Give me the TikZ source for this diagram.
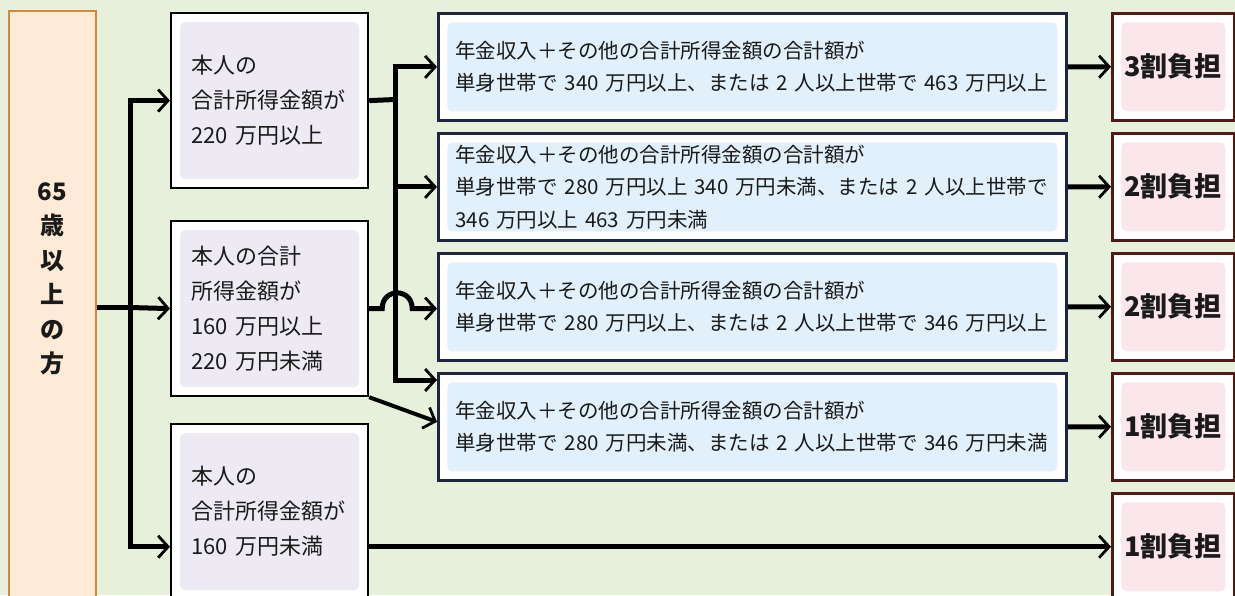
\documentclass[tikz,border=0pt]{standalone}
\usepackage{fontspec}
\setmainfont{Noto Sans CJK JP}
\usepackage{tikz}
\usetikzlibrary{
    arrows.meta,
    calc,
    positioning
}
\definecolor{bggreen}{RGB}{231,240,218}
\definecolor{agefill}{RGB}{253,235,215}
\definecolor{agedraw}{RGB}{212,134,58}
\definecolor{lavfill}{RGB}{238,234,243}
\definecolor{bluefill}{RGB}{225,240,250}
\definecolor{bluedraw}{RGB}{28,38,66}
\definecolor{pinkfill}{RGB}{251,230,236}
\definecolor{pinkdraw}{RGB}{78,26,26}
\definecolor{ink}{RGB}{26,26,26}
\tikzset{inset/.style={path picture={\fill[#1, rounded corners=5pt] ($(path picture bounding box.north west)+(9pt,-9pt)$) rectangle ($(path picture bounding box.south east)+(-9pt,9pt)$);}}}
\tikzset{ageb/.style={draw=agedraw, line width=2pt, fill=agefill, minimum width=87pt, minimum height=600pt, inner sep=0pt}}
\tikzset{incb/.style={draw=black, line width=2.2pt, fill=white, inset=lavfill, minimum width=197pt, minimum height=175pt, text width=157pt, inner xsep=20pt, align=left, text=ink, font=\fontsize{22}{35}\selectfont}}
\tikzset{condb/.style={draw=bluedraw, line width=2.8pt, fill=white, inset=bluefill, minimum width=628pt, minimum height=107pt, text width=594pt, inner xsep=17pt, align=left, text=ink, font=\fontsize{20.5}{32.5}\selectfont}}
\tikzset{payb/.style={draw=pinkdraw, line width=2.5pt, fill=white, inset=pinkfill, minimum width=122pt, minimum height=107pt, inner sep=0pt, text=ink, font=\fontsize{27}{32}\selectfont\bfseries}}
\tikzset{conn/.style={line width=5pt, draw=black, >={Straight Barb[length=10pt, width=22pt, line width=2.8pt]}}}

\begin{document}
\begin{tikzpicture}[x=1pt, y=-1pt]
    \useasboundingbox (0, 0) rectangle (1235, 595);
    \clip (0, 0) rectangle (1235, 595);
    \fill[bggreen] (0, 0) rectangle (1235, 595);

    \node[ageb, anchor=north west] (senior) at (8, 10) {};
    \node[align=center, text=ink, font=\fontsize{24}{34.5}\selectfont\bfseries] (seniortext) at (52, 279) {65\\歳\\以\\上\\の\\方};

    \node[incb, anchor=north west] (inc1) at (170, 12) {本人の\\合計所得金額が\\220 万円以上};
    \node[incb, anchor=north west] (inc2) at (170, 220) {本人の合計\\所得金額が\\160 万円以上\\220 万円未満};
    \node[incb, anchor=north west] (inc3) at (170, 423) {本人の\\合計所得金額が\\160 万円未満};

    \node[condb, anchor=north west] (cond1) at (437, 12) {年金収入＋その他の合計所得金額の合計額が\\\mbox{単身世帯で 340 万円以上、または 2 人以上世帯で 463 万円以上}};
    \node[condb, anchor=north west] (cond2) at (437, 132) {年金収入＋その他の合計所得金額の合計額が\\\mbox{単身世帯で 280 万円以上 340 万円未満、または 2 人以上世帯で}\\346 万円以上 463 万円未満};
    \node[condb, anchor=north west] (cond3) at (437, 252) {年金収入＋その他の合計所得金額の合計額が\\\mbox{単身世帯で 280 万円以上、または 2 人以上世帯で 346 万円以上}};
    \node[condb, anchor=north west] (cond4) at (437, 372) {年金収入＋その他の合計所得金額の合計額が\\\mbox{単身世帯で 280 万円未満、または 2 人以上世帯で 346 万円未満}};

    \node[payb, anchor=north west] (pay1) at (1111, 12) {3割負担};
    \node[payb, anchor=north west] (pay2) at (1111, 132) {2割負担};
    \node[payb, anchor=north west] (pay3) at (1111, 252) {2割負担};
    \node[payb, anchor=north west] (pay4) at (1111, 372) {1割負担};
    \node[payb, anchor=north west] (pay5) at (1111, 492) {1割負担};

    \coordinate (split) at (130, 307.5);
    \coordinate (fork) at (395, 99.5);

    % left trunk
    \draw[conn] (senior.east |- split) -- (split);
    \draw[conn, ->] (split) |- (inc1.west);
    \draw[conn, ->] (split) -- (inc2.west);
    \draw[conn, ->] (split) |- (inc3.west |- pay5.west);
    \draw[conn, ->] (inc3.east |- pay5.west) -- (pay5.west);

    % middle
    \draw[conn] (inc1.east) -- (fork);
    \draw[conn, ->] (fork) |- (cond1.west);
    \draw[conn, ->] (fork) |- (cond2.west);
    \draw[conn, ->] (fork) |- ([yshift=-8pt]cond4.north west);
    \draw[conn, ->] (inc2.east) -- ++(13, 0) .. controls +(0, -21) and +(0, -21) .. ++(30, 0) -- (cond3.west |- inc2.east);
    \draw[conn, line width=4pt, ->] (inc2.south east) -- ([yshift=5pt]cond4.west);

    \draw[conn]
    (cond1) edge[->] (pay1)
    (cond2) edge[->] (pay2)
    (cond3) edge[->] (pay3)
    (cond4) edge[->] (pay4);
\end{tikzpicture}
\end{document}
